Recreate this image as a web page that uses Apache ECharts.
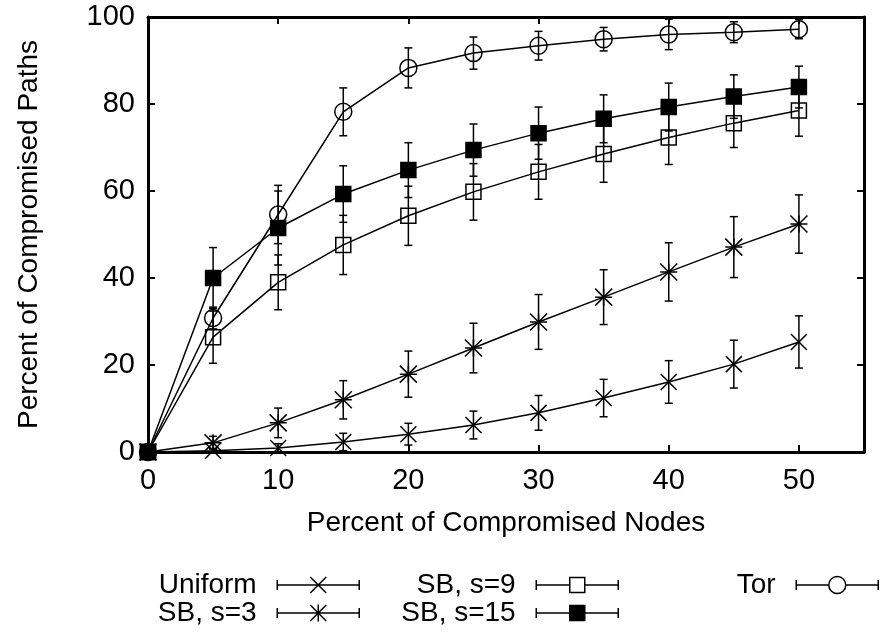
<!DOCTYPE html>
<html>
<head>
<meta charset="utf-8">
<title>Percent of Compromised Paths</title>
<script src="https://cdn.jsdelivr.net/npm/echarts@6/dist/echarts.min.js"></script>
<style>
  html, body { margin: 0; padding: 0; background: #fff; }
  #chart { width: 883px; height: 633px; }
</style>
</head>
<body>
<div id="chart"></div>
<script>
// Percent of compromised nodes (x) for every sample
const xValues = [0, 5, 10, 15, 20, 25, 30, 35, 40, 45, 50];

// Mean percent of compromised paths and the half-width of each error bar
const uniform    = [0, 0.3, 0.9, 2.3, 4.1, 6.2, 9.0, 12.4, 16.1, 20.2, 25.3];
const uniformErr = [0, 0.5, 1.0, 2.0, 2.5, 3.2, 4.0, 4.3, 4.9, 5.5, 6.0];
const sb3        = [0, 2.1, 6.7, 12.0, 17.9, 23.9, 29.9, 35.6, 41.4, 47.1, 52.4];
const sb3Err     = [0, 1.5, 3.4, 4.4, 5.3, 5.7, 6.3, 6.3, 6.7, 7.0, 6.7];
const sb9        = [0, 26.4, 39.0, 47.6, 54.3, 59.8, 64.4, 68.5, 72.3, 75.6, 78.5];
const sb9Err     = [0, 6.0, 6.3, 6.8, 6.8, 6.5, 6.3, 6.5, 6.2, 5.6, 5.9];
const sb15       = [0, 40.0, 51.5, 59.3, 64.8, 69.4, 73.3, 76.6, 79.3, 81.7, 83.9];
const sb15Err    = [0, 7.0, 8.5, 6.5, 6.3, 6.0, 6.0, 5.5, 5.5, 5.0, 4.8];
const tor        = [0, 30.8, 54.6, 78.2, 88.3, 91.7, 93.4, 94.9, 96.0, 96.5, 97.2];
const torErr     = [0, 2.5, 6.7, 5.5, 4.6, 3.7, 3.3, 2.7, 3.5, 2.4, 2.2];

// Axis ticks
const xTicks = { min: 0, max: 55, interval: 10 };
const yTicks = { min: 0, max: 100, interval: 20 };

const FONT = "'Liberation Sans', Arial, Helvetica, sans-serif";
const INK = '#000';

// Point shapes
const CROSS  = 'path://M0,0L10,10M10,0L0,10';
const STAR   = 'path://M0,0L10,10M10,0L0,10M5,0L5,10M0,5L10,5';
const SQUARE = 'path://M0,0H10V10H0Z';
const CIRCLE = 'path://M10,5A5,5,0,1,1,0,5A5,5,0,1,1,10,5Z';

// Key samples: a bar with end caps and the point shape in the middle (82 x 17 box)
const KEY_FRAME = 'M0,0M82,17';
const KEY_BAR = 'M0,3.5V13.5M82,3.5V13.5';
const KEY = {
  cross:  'path://' + KEY_FRAME + KEY_BAR + 'M0,8.5H82M33,0.5L49,16.5M49,0.5L33,16.5',
  star:   'path://' + KEY_FRAME + KEY_BAR + 'M0,8.5H82M33,0.5L49,16.5M49,0.5L33,16.5M41,0V17',
  square: 'path://' + KEY_FRAME + KEY_BAR + 'M0,8.5H33.5M48.5,8.5H82M33.5,1H48.5V16H33.5Z',
  circle: 'path://' + KEY_FRAME + KEY_BAR + 'M0,8.5H32.5M49.5,8.5H82M49.5,8.5A8.5,8.5,0,1,1,32.5,8.5A8.5,8.5,0,1,1,49.5,8.5Z'
};

function pairs(vals) {
  return xValues.map((x, i) => [x, vals[i]]);
}

function lineSeries(name, vals, symbol, size, fill, z) {
  return {
    type: 'line',
    name: name,
    data: pairs(vals),
    symbol: symbol,
    symbolSize: size,
    showAllSymbol: true,
    lineStyle: { color: INK, width: 1.5 },
    itemStyle: { color: fill, borderColor: INK, borderWidth: 1.5 },
    emphasis: { disabled: true },
    silent: true,
    animation: false,
    z: z
  };
}

function errorSeries(name, vals, errs, z) {
  return {
    type: 'custom',
    name: name,
    data: xValues.map((x, i) => [x, vals[i] - errs[i], vals[i] + errs[i]]),
    clip: true,
    silent: true,
    animation: false,
    z: z,
    renderItem: function (params, api) {
      const x = api.value(0);
      const lo = api.coord([x, api.value(1)]);
      const hi = api.coord([x, api.value(2)]);
      if (Math.abs(lo[1] - hi[1]) < 0.5) return null;
      const half = 4;
      const st = { stroke: INK, lineWidth: 1.5 };
      return {
        type: 'group',
        children: [
          { type: 'line', shape: { x1: lo[0], y1: lo[1], x2: hi[0], y2: hi[1] }, style: st },
          { type: 'line', shape: { x1: lo[0] - half, y1: lo[1], x2: lo[0] + half, y2: lo[1] }, style: st },
          { type: 'line', shape: { x1: hi[0] - half, y1: hi[1], x2: hi[0] + half, y2: hi[1] }, style: st }
        ]
      };
    }
  };
}

const tickText = { fontSize: 29, color: INK, fontFamily: FONT };
const titleText = { fontSize: 28, color: INK, fontFamily: FONT };
const tickStyle = { show: true, inside: true, length: 7, lineStyle: { color: INK, width: 2 } };
const borderLine = { show: true, onZero: false, lineStyle: { color: INK, width: 3 } };

const keyText = { fontSize: 28, color: INK, fontFamily: FONT, lineHeight: 27 };
const openStyle = { color: 'rgba(0,0,0,0)', borderColor: INK, borderWidth: 1.5 };
const solidStyle = { color: INK, borderColor: INK, borderWidth: 1.5 };

function keyBlock(right, items) {
  return {
    orient: 'vertical',
    align: 'right',
    right: right,
    top: 571,
    padding: 0,
    itemGap: 0,
    itemWidth: 82,
    itemHeight: 17,
    selectedMode: false,
    textStyle: keyText,
    formatter: n => n + '  ',
    data: items
  };
}

const option = {
  backgroundColor: '#fff',
  animation: false,
  grid: { left: 148, right: 19, top: 17, bottom: 181, show: false },
  xAxis: [
    {
      type: 'value', position: 'bottom',
      min: xTicks.min, max: xTicks.max, interval: xTicks.interval,
      axisLine: borderLine, axisTick: tickStyle,
      axisLabel: Object.assign({ margin: 14, showMaxLabel: false }, tickText),
      splitLine: { show: false },
      name: 'Percent of Compromised Nodes', nameLocation: 'middle', nameGap: 57,
      nameTextStyle: titleText
    },
    {
      type: 'value', position: 'top',
      min: xTicks.min, max: xTicks.max, interval: xTicks.interval,
      axisLine: borderLine, axisTick: tickStyle,
      axisLabel: { show: false }, splitLine: { show: false }
    }
  ],
  yAxis: [
    {
      type: 'value', position: 'left',
      min: yTicks.min, max: yTicks.max, interval: yTicks.interval,
      axisLine: borderLine, axisTick: tickStyle,
      axisLabel: Object.assign({ margin: 13 }, tickText),
      splitLine: { show: false },
      name: 'Percent of Compromised Paths', nameLocation: 'middle', nameGap: 105,
      nameTextStyle: titleText
    },
    {
      type: 'value', position: 'right',
      min: yTicks.min, max: yTicks.max, interval: yTicks.interval,
      axisLine: borderLine, axisTick: tickStyle,
      axisLabel: { show: false }, splitLine: { show: false }
    }
  ],
  legend: [
    keyBlock(523, [
      { name: 'Uniform', icon: KEY.cross, itemStyle: openStyle },
      { name: 'SB, s=3', icon: KEY.star, itemStyle: openStyle }
    ]),
    keyBlock(264, [
      { name: 'SB, s=9', icon: KEY.square, itemStyle: openStyle },
      { name: 'SB, s=15', icon: KEY.square, itemStyle: solidStyle }
    ]),
    keyBlock(4, [
      { name: 'Tor', icon: KEY.circle, itemStyle: openStyle }
    ])
  ],
  series: [
    errorSeries('Uniform range', uniform, uniformErr, 2),
    lineSeries('Uniform', uniform, CROSS, 16, 'rgba(0,0,0,0)', 3),
    errorSeries('SB, s=3 range', sb3, sb3Err, 2),
    lineSeries('SB, s=3', sb3, STAR, 17, 'rgba(0,0,0,0)', 3),
    errorSeries('SB, s=9 range', sb9, sb9Err, 2),
    lineSeries('SB, s=9', sb9, SQUARE, 15, 'rgba(0,0,0,0)', 3),
    errorSeries('SB, s=15 range', sb15, sb15Err, 2),
    lineSeries('SB, s=15', sb15, SQUARE, 15, INK, 3),
    errorSeries('Tor range', tor, torErr, 2),
    lineSeries('Tor', tor, CIRCLE, 17, 'rgba(0,0,0,0)', 3)
  ]
};

const chart = echarts.init(document.getElementById('chart'), null, { renderer: 'canvas' });
chart.setOption(option);
</script>
</body>
</html>
